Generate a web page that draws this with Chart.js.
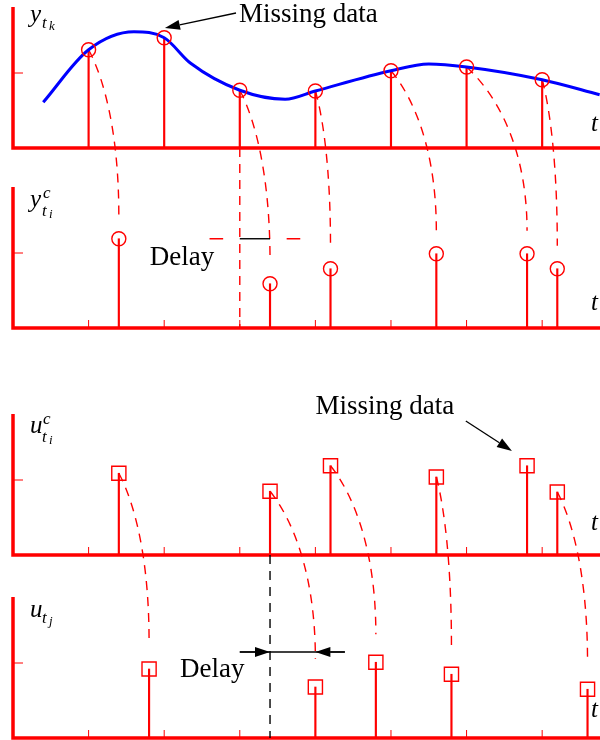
<!DOCTYPE html>
<html>
<head>
<meta charset="utf-8">
<script src="https://cdn.jsdelivr.net/npm/chart.js@4.4.0/dist/chart.umd.min.js"></script>
<style>
  body { margin: 0; background: #fff; }
  canvas { display: block; }
</style>
</head>
<body>
<canvas id="myChart" width="600" height="740"></canvas>
<script>
// time ticks on every panel
var tickTimes = [1, 2, 3, 4, 5, 6, 7];

// continuous output y(t) (blue curve)
var curveT = [0.4, 1.0, 1.6, 2.0, 2.35, 3.0, 3.6, 4.0, 5.0, 5.5, 6.0, 7.0, 7.76];
var curveY = [0.61, 1.31, 1.55, 1.47, 1.13, 0.77, 0.65, 0.76, 1.03, 1.12, 1.08, 0.91, 0.71];

// sampled output y_tk
var sampleT = [1, 2, 3, 4, 5, 6, 7];
var sampleY = [1.31, 1.47, 0.77, 0.76, 1.03, 1.08, 0.91];

// received output y^c_ti (and the sample each one comes from; t=2 is lost)
var recvT = [1.4, 3.4, 4.2, 5.6, 6.8, 7.2];
var recvY = [1.19, 0.59, 0.79, 0.99, 0.99, 0.79];
var recvFrom = [1, 3, 4, 5, 6, 7];

// computed control u^c_ti
var ctrlT = [1.4, 3.4, 4.2, 5.6, 6.8, 7.2];
var ctrlU = [1.09, 0.85, 1.19, 1.04, 1.19, 0.84];

// applied control u_tj (and the computed value it comes from; t=6.8 is lost)
var applT = [1.8, 4.0, 4.8, 5.8, 7.6];
var applU = [0.92, 0.68, 1.01, 0.85, 0.65];
var applFrom = [1.4, 3.4, 4.2, 5.6, 7.2];

var RED = '#ff0000';
var PX_UNIT = 75;               // pixels per value unit on every panel
var bands = [148, 180, 227, 183]; // panel heights, top to bottom
var axisTop = 1.88;

function pts(xs, ys) {
  return xs.map(function (x, i) { return { x: x, y: ys[i] }; });
}
function stems(xs, ys, axis) {
  return { type: 'bar', data: pts(xs, ys), yAxisID: axis, backgroundColor: RED,
           barThickness: 1.5, grouped: false, borderWidth: 0, order: 3 };
}
function marks(xs, ys, axis, style, r) {
  return { type: 'scatter', data: pts(xs, ys), yAxisID: axis, pointStyle: style,
           pointRadius: r, pointHoverRadius: r, pointBorderColor: RED,
           pointBackgroundColor: 'rgba(0,0,0,0)', pointBorderWidth: 1.4, order: 1 };
}
function yScale(h) {
  return { type: 'linear', position: 'left', stack: 'panels', stackWeight: h,
           min: 0, max: h / PX_UNIT, display: true,
           ticks: { display: false }, grid: { display: false, drawTicks: false },
           border: { display: false }, afterFit: function (s) { s.width = 0; } };
}

function arrow(ctx, x0, y0, x1, y1) {
  var a = Math.atan2(y1 - y0, x1 - x0), L = 15, W = 5;
  var bx = x1 - L * Math.cos(a), by = y1 - L * Math.sin(a);
  ctx.beginPath(); ctx.moveTo(x0, y0); ctx.lineTo(bx, by); ctx.stroke();
  ctx.beginPath();
  ctx.moveTo(x1, y1);
  ctx.lineTo(bx + W * Math.sin(a), by - W * Math.cos(a));
  ctx.lineTo(bx - W * Math.sin(a), by + W * Math.cos(a));
  ctx.closePath(); ctx.fill();
}
function link(ctx, x0, y0, x1, y1) {
  var dx = x1 - x0, dy = y1 - y0;
  ctx.beginPath();
  ctx.moveTo(x0, y0);
  ctx.bezierCurveTo(x0 + 0.3 * dx, y0 + 0.1 * dy, x1, y0 + 0.4 * dy, x1, y1);
  ctx.stroke();
}
function mathLabel(ctx, x, yb, main, sub, subsub, sup) {
  ctx.fillStyle = '#000';
  ctx.textBaseline = 'alphabetic';
  ctx.font = 'italic 25px "Liberation Serif"';
  ctx.fillText(main, x, yb);
  var so = sup ? 9 : 6;
  ctx.font = 'italic 17px "Liberation Serif"';
  ctx.fillText(sub, x + 12, yb + so);
  if (sup) ctx.fillText(sup, x + 13, yb - 9);
  ctx.font = 'italic 13px "Liberation Serif"';
  ctx.fillText(subsub, x + 19, yb + so + 2);
}

var diagram = {
  id: 'diagram',
  beforeDatasetsDraw: function (chart) {
    var ctx = chart.ctx, x = chart.scales.x;
    var ids = ['y1', 'y2', 'y3', 'y4'];
    ctx.save();
    ids.forEach(function (id) {
      var y = chart.scales[id];
      var x0 = x.getPixelForValue(0), b = y.getPixelForValue(0);
      ctx.strokeStyle = RED;
      ctx.lineWidth = 3.5;
      ctx.lineJoin = 'miter';
      ctx.beginPath();
      ctx.moveTo(x0, y.getPixelForValue(axisTop));
      ctx.lineTo(x0, b);
      ctx.lineTo(x.right + 2, b);
      ctx.stroke();
      ctx.lineWidth = 1;
      ctx.beginPath();
      tickTimes.forEach(function (t) {
        var px = x.getPixelForValue(t);
        ctx.moveTo(px, b); ctx.lineTo(px, b - 8);
      });
      ctx.moveTo(x0, y.getPixelForValue(1));
      ctx.lineTo(x0 + 10, y.getPixelForValue(1));
      ctx.stroke();
    });

    var y1 = chart.scales.y1, y2 = chart.scales.y2, y3 = chart.scales.y3, y4 = chart.scales.y4;
    ctx.strokeStyle = RED;
    ctx.lineWidth = 1.4;
    ctx.setLineDash([9, 7]);
    recvT.forEach(function (t, i) {
      var s = sampleT.indexOf(recvFrom[i]);
      link(ctx, x.getPixelForValue(sampleT[s]), y1.getPixelForValue(sampleY[s]),
           x.getPixelForValue(t), y2.getPixelForValue(recvY[i]) - 23);
    });
    applT.forEach(function (t, i) {
      var s = ctrlT.indexOf(applFrom[i]);
      link(ctx, x.getPixelForValue(ctrlT[s]), y3.getPixelForValue(ctrlU[s]),
           x.getPixelForValue(t), y4.getPixelForValue(applU[i]) - 28);
    });
    // delay marker, output side
    ctx.beginPath();
    ctx.moveTo(x.getPixelForValue(recvFrom[1]), y1.getPixelForValue(0));
    ctx.lineTo(x.getPixelForValue(recvFrom[1]), y2.getPixelForValue(0));
    ctx.stroke();
    ctx.setLineDash([]);
    var hy = y2.getPixelForValue(1.19);
    ctx.beginPath();
    ctx.moveTo(x.getPixelForValue(2.6), hy); ctx.lineTo(x.getPixelForValue(2.78), hy);
    ctx.moveTo(x.getPixelForValue(3.62), hy); ctx.lineTo(x.getPixelForValue(3.8), hy);
    ctx.stroke();
    ctx.strokeStyle = '#000';
    ctx.beginPath();
    ctx.moveTo(x.getPixelForValue(recvFrom[1]), hy);
    ctx.lineTo(x.getPixelForValue(recvT[1]), hy);
    ctx.stroke();
    // delay marker, control side
    ctx.setLineDash([9, 7]);
    ctx.beginPath();
    ctx.moveTo(x.getPixelForValue(applFrom[1]), y3.getPixelForValue(0));
    ctx.lineTo(x.getPixelForValue(applFrom[1]), y4.getPixelForValue(0));
    ctx.stroke();
    ctx.restore();
  },
  afterDatasetsDraw: function (chart) {
    var ctx = chart.ctx, x = chart.scales.x;
    var y1 = chart.scales.y1, y2 = chart.scales.y2, y3 = chart.scales.y3, y4 = chart.scales.y4;
    ctx.save();
    ctx.strokeStyle = '#000';
    ctx.fillStyle = '#000';
    ctx.lineWidth = 1.3;
    // delay arrows on the control side
    var ay = y4.getPixelForValue(1.147);
    ctx.beginPath();
    ctx.moveTo(x.getPixelForValue(3.0), ay); ctx.lineTo(x.getPixelForValue(4.39), ay);
    ctx.stroke();
    arrow(ctx, x.getPixelForValue(3.0), ay, x.getPixelForValue(applFrom[1]), ay);
    arrow(ctx, x.getPixelForValue(4.39), ay, x.getPixelForValue(applT[1]), ay);
    // missing data arrows
    arrow(ctx, x.getPixelForValue(2.95), y1.getPixelForValue(1.8), x.getPixelForValue(2.01), y1.getPixelForValue(1.6));
    arrow(ctx, x.getPixelForValue(5.99), y3.getPixelForValue(1.787), x.getPixelForValue(6.6), y3.getPixelForValue(1.387));

    ctx.font = '27px "Liberation Serif"';
    ctx.textBaseline = 'alphabetic';
    ctx.fillText('Missing data', x.getPixelForValue(2.99), y1.getPixelForValue(1.68));
    ctx.fillText('Missing data', x.getPixelForValue(4.0), y3.getPixelForValue(1.88));
    ctx.fillText('Delay', x.getPixelForValue(1.81), y2.getPixelForValue(0.84));
    ctx.fillText('Delay', x.getPixelForValue(2.21), y4.getPixelForValue(0.813));

    var lx = x.getPixelForValue(0) + 17;
    mathLabel(ctx, lx, y1.getPixelForValue(1.68), 'y', 't', 'k', null);
    mathLabel(ctx, lx, y2.getPixelForValue(1.61), 'y', 't', 'i', 'c');
    mathLabel(ctx, lx, y3.getPixelForValue(1.63), 'u', 't', 'i', 'c');
    mathLabel(ctx, lx, y4.getPixelForValue(1.61), 'u', 't', 'j', null);

    ctx.font = 'italic 25px "Liberation Serif"';
    ctx.fillText('t', 591, y1.getPixelForValue(0.227));
    ctx.fillText('t', 591, y2.getPixelForValue(0.24));
    ctx.fillText('t', 591, y3.getPixelForValue(0.333));
    ctx.fillText('t', 591, y4.getPixelForValue(0.28));
    ctx.restore();
  }
};

var ctx = document.getElementById('myChart');
var myChart = new Chart(ctx, {
  type: 'scatter',
  data: {
    datasets: [
      stems(sampleT, sampleY, 'y1'),
      { type: 'line', data: pts(curveT, curveY), yAxisID: 'y1', borderColor: '#0000ff',
        borderWidth: 3, pointRadius: 0, cubicInterpolationMode: 'monotone', fill: false, order: 2 },
      marks(sampleT, sampleY, 'y1', 'circle', 7),
      stems(recvT, recvY, 'y2'),
      marks(recvT, recvY, 'y2', 'circle', 7),
      stems(ctrlT, ctrlU, 'y3'),
      marks(ctrlT, ctrlU, 'y3', 'rect', 10),
      stems(applT, applU, 'y4'),
      marks(applT, applU, 'y4', 'rect', 10)
    ]
  },
  options: {
    responsive: false,
    animation: false,
    events: [],
    layout: { autoPadding: false, padding: { left: 13, right: 0, top: 0, bottom: 2 } },
    plugins: { legend: { display: false }, tooltip: { enabled: false } },
    scales: {
      x: { type: 'linear', min: 0, max: 7.765, display: false, offset: false },
      // stacked left axes are laid out last-declared on top, so list bottom panel first
      y4: yScale(bands[3]),
      y3: yScale(bands[2]),
      y2: yScale(bands[1]),
      y1: yScale(bands[0])
    }
  },
  plugins: [diagram]
});
</script>
</body>
</html>
